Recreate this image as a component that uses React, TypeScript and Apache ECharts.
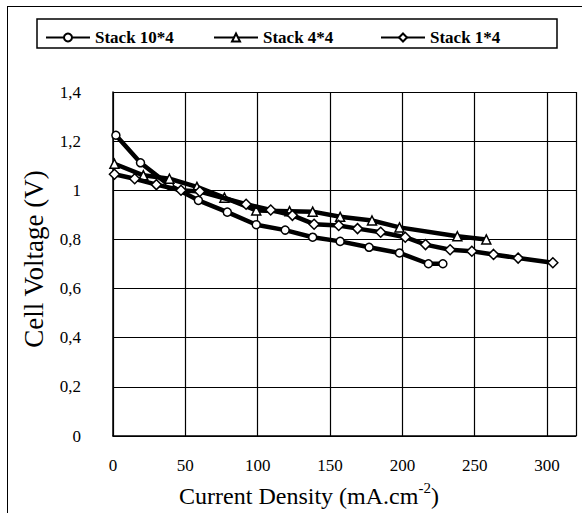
import React, { useEffect, useRef } from 'react';
import * as echarts from 'echarts';

// Current density (mA.cm-2) and cell voltage (V)
const stack10x4X = [2, 19, 39, 59, 79, 99, 119, 138, 157, 177, 198, 218, 228];
const stack10x4Y = [1.224, 1.112, 1.02, 0.959, 0.911, 0.86, 0.838, 0.809, 0.792, 0.768, 0.745, 0.701, 0.701];

const stack4x4X = [1, 21, 39, 58, 77, 99, 122, 138, 157, 179, 198, 238, 258];
const stack4x4Y = [1.108, 1.061, 1.047, 1.014, 0.97, 0.918, 0.915, 0.913, 0.892, 0.877, 0.849, 0.813, 0.8];

const stack1x4X = [1, 15, 30, 47, 60, 92, 109, 124, 139, 156, 169, 185, 202, 216, 233, 248, 263, 280, 304];
const stack1x4Y = [1.065, 1.047, 1.023, 1.0, 0.995, 0.943, 0.92, 0.898, 0.862, 0.857, 0.844, 0.829, 0.809, 0.779, 0.758, 0.752, 0.739, 0.724, 0.705];

const seriesNames = ['Stack 10*4', 'Stack 4*4', 'Stack 1*4'];
const seriesSymbols = ['circle', 'triangle', 'diamond'];
const xTickLabels = ['0', '50', '100', '150', '200', '250', '300'];

const FONT = 'Liberation Serif';

const pairs = (xs: number[], ys: number[]) => xs.map((x, i) => [x, ys[i]]);

export default function App() {
  const ref = useRef<HTMLDivElement>(null);
  useEffect(() => {
    if (!ref.current) return;
    const chart = echarts.init(ref.current, null, { renderer: 'svg' });
    const datasets = [
      pairs(stack10x4X, stack10x4Y),
      pairs(stack4x4X, stack4x4Y),
      pairs(stack1x4X, stack1x4Y),
    ];
    const symbolSizes = [8, 9, 10];
    const legendLefts = [40, 208, 375];
    chart.setOption({
      animation: false,
      backgroundColor: '#fff',
      textStyle: { fontFamily: FONT },
      grid: { left: 113, top: 92, width: 463, height: 344, containLabel: false },
      legend: seriesNames.map((n, i) => ({
        data: [n],
        left: legendLefts[i],
        top: 24,
        itemWidth: 44,
        itemHeight: 10,
        itemGap: 5,
        textStyle: { fontFamily: FONT, fontSize: 17, fontWeight: 'bold', color: '#000' },
      })),
      xAxis: {
        type: 'value',
        min: 0,
        max: 320,
        interval: 50,
        axisLine: { show: true, lineStyle: { color: '#000', width: 1.5 } },
        axisTick: { show: false },
        splitLine: { show: true, lineStyle: { color: '#000', width: 1.2 } },
        axisLabel: {
          margin: 21,
          fontFamily: FONT,
          fontSize: 17,
          color: '#000',
          showMaxLabel: false,
          formatter: (v: number) => {
            const idx = xTickLabels.indexOf(String(v));
            return idx >= 0 ? xTickLabels[idx] : '';
          },
        },
      },
      yAxis: {
        type: 'value',
        min: 0,
        max: 1.4,
        interval: 0.2,
        axisLine: { show: true, lineStyle: { color: '#000', width: 1.5 } },
        axisTick: { show: false },
        splitLine: { show: true, lineStyle: { color: '#000', width: 1.2 } },
        axisLabel: {
          margin: 32,
          fontFamily: FONT,
          fontSize: 17,
          color: '#000',
          formatter: (v: number) => String(Math.round(v * 10) / 10).replace('.', ','),
        },
      },
      series: seriesNames.map((n, i) => ({
        name: n,
        type: 'line',
        data: datasets[i],
        symbol: seriesSymbols[i],
        symbolSize: symbolSizes[i],
        showAllSymbol: true,
        lineStyle: { color: '#000', width: 4.5 },
        itemStyle: { color: '#fff', borderColor: '#000', borderWidth: 1.5 },
        z: 3 + i,
      })),
      graphic: [
        { type: 'line', shape: { x1: 7, y1: 6.5, x2: 582, y2: 6.5 }, style: { stroke: '#000', lineWidth: 1 } },
        { type: 'line', shape: { x1: 7.5, y1: 6, x2: 7.5, y2: 513 }, style: { stroke: '#000', lineWidth: 1 } },
        { type: 'rect', shape: { x: 37, y: 19, width: 520, height: 29 }, style: { fill: 'none', stroke: '#000', lineWidth: 1.5 }, z: -1 },
        {
          type: 'text',
          x: 34,
          y: 259,
          rotation: Math.PI / 2,
          style: {
            text: 'Cell Voltage (V)',
            fontFamily: FONT,
            fontSize: 27,
            fill: '#000',
            align: 'center',
            verticalAlign: 'middle',
          },
        },
        {
          type: 'text',
          x: 309,
          y: 494,
          style: {
            text: '{a|Current Density (mA.cm}{s|-2}{a|)}',
            align: 'center',
            verticalAlign: 'middle',
            rich: {
              a: { fontFamily: FONT, fontSize: 24, fill: '#000', lineHeight: 28, verticalAlign: 'bottom' },
              s: { fontFamily: FONT, fontSize: 15, fill: '#000', lineHeight: 28, verticalAlign: 'top' },
            },
          },
        },
      ],
    });
    return () => chart.dispose();
  }, []);
  return <div ref={ref} style={{ position: 'fixed', left: 0, top: 0, width: 582, height: 513 }} />;
}
